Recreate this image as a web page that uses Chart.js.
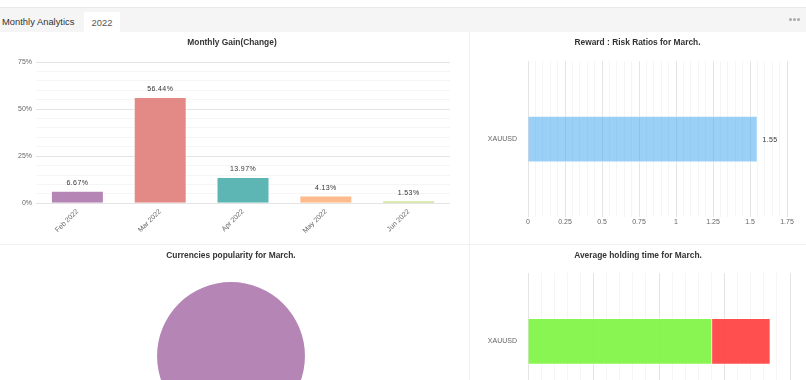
<!DOCTYPE html>
<html>
<head>
<meta charset="utf-8">
<script src="https://cdn.jsdelivr.net/npm/chart.js@4.4.0/dist/chart.umd.min.js"></script>
<style>
  html, body { margin: 0; padding: 0; background: #fff; overflow: hidden; }
  body { width: 806px; height: 380px; position: relative; font-family: Arial, "Liberation Sans", sans-serif; }
  .head { position: absolute; left: 0; top: 7px; width: 806px; height: 24px; background: #f5f5f5; border-top: 1px solid #e9e9e9; }
  .tab { position: absolute; top: 0; height: 24px; line-height: 27px; font-size: 9.4px; color: #333; }
  .tab.active { left: 84px; width: 36px; top: 4px; height: 21px; line-height: 21px; background: #fff; text-align: center; color: #555; }
  .dots { position: absolute; right: 6px; top: 10px; display: flex; }
  .dots i { display: block; width: 3px; height: 3px; border-radius: 50%; background: #aaa; margin-left: 1px; }
  .panel { position: absolute; }
  .vline { position: absolute; left: 469px; top: 32px; width: 1px; height: 360px; background: #f0f0f0; }
  .hline { position: absolute; left: 0; top: 244px; width: 806px; height: 1px; background: #f0f0f0; }
</style>
</head>
<body>
<div class="head">
  <div class="tab" style="left:2px;">Monthly Analytics</div>
  <div class="tab active">2022</div>
  <div class="dots"><i></i><i></i><i></i></div>
</div>
<div class="vline"></div>
<div class="hline"></div>
<div class="panel" style="left:0;top:32px;width:469px;height:212px;"><canvas id="gainChart"></canvas></div>
<div class="panel" style="left:469px;top:32px;width:337px;height:212px;"><canvas id="ratioChart"></canvas></div>
<div class="panel" style="left:0;top:245px;width:469px;height:189px;"><canvas id="popChart"></canvas></div>
<div class="panel" style="left:470px;top:245px;width:336px;height:200px;"><canvas id="holdChart"></canvas></div>
<script>
// donnees
const gainMonths = ['Feb 2022', 'Mar 2022', 'Apr 2022', 'May 2022', 'Jun 2022'];
const gainValues = [6.67, 56.44, 13.97, 4.13, 1.53];
const gainColors = ['#b586b5', '#e38986', '#5db6b3', '#ffba8e', '#b8d96b'];

const ratioSymbols = ['XAUUSD'];
const ratioValues = [1.55];

const popSymbols = ['XAUUSD'];
const popValues = [100];
const popColors = ['#b586b5'];

const holdSymbols = ['XAUUSD'];
const holdProfit = [2.81];
const holdLoss = [0.89];

Chart.defaults.font.family = "Arial, 'Liberation Sans', sans-serif";
Chart.defaults.color = '#666';
Chart.defaults.animation = false;

const titleFont = { size: 8.4, weight: 'bold' };
const tickFont = { size: 7 };
const major = '#e4e4e4';
const minor = '#f5f5f5';

// petites etiquettes de valeur au bout des barres
const valueLabels = {
    id: 'valueLabels',
    afterDatasetsDraw(chart, args, opts) {
        if (!opts.show) return;
        const ctx = chart.ctx;
        const meta = chart.getDatasetMeta(0);
        ctx.save();
        ctx.font = '7px Arial, "Liberation Sans", sans-serif';
        ctx.fillStyle = '#333';
        ctx.letterSpacing = '0.4px';
        meta.data.forEach((bar, i) => {
            const v = chart.data.datasets[0].data[i];
            if (opts.horizontal) {
                ctx.textAlign = 'left';
                ctx.textBaseline = 'middle';
                ctx.fillText(opts.format(v), bar.x + 5, bar.y + 1);
            } else {
                ctx.textAlign = 'center';
                ctx.textBaseline = 'bottom';
                ctx.fillText(opts.format(v), bar.x, bar.y - 4);
            }
        });
        ctx.restore();
    }
};
Chart.register(valueLabels);

function isStep(v, s) {
    return Math.abs(v / s - Math.round(v / s)) < 1e-6;
}

// Monthly Gain
new Chart(document.getElementById('gainChart'), {
    type: 'bar',
    data: {
        labels: gainMonths,
        datasets: [{
            data: gainValues,
            backgroundColor: gainColors,
            borderColor: 'rgba(255,255,255,0.6)',
            borderWidth: 1,
            barPercentage: 0.8,
            categoryPercentage: 0.8
        }]
    },
    options: {
        responsive: true,
        maintainAspectRatio: false,
        layout: { padding: { left: 14, right: 19, bottom: 5 } },
        plugins: {
            legend: { display: false },
            tooltip: { enabled: false },
            title: { display: true, text: 'Monthly Gain(Change)', color: '#333', font: titleFont, padding: { top: 6, bottom: 14 } },
            valueLabels: { show: true, format: v => v.toFixed(2) + '%' }
        },
        scales: {
            x: {
                grid: { display: false, drawTicks: false },
                border: { display: false },
                ticks: { font: tickFont, minRotation: 45, maxRotation: 45, padding: 4 }
            },
            y: {
                min: 0,
                max: 75,
                border: { display: false },
                grid: { drawTicks: false, color: c => isStep(c.tick.value, 25) ? major : minor },
                ticks: { font: tickFont, stepSize: 5, padding: 4, autoSkip: false,
                    callback: v => isStep(v, 25) ? v + '%' : '' }
            }
        }
    }
});

// Reward : Risk
new Chart(document.getElementById('ratioChart'), {
    type: 'bar',
    data: {
        labels: ratioSymbols,
        datasets: [{
            data: ratioValues,
            backgroundColor: 'rgba(54,162,235,0.5)',
            borderColor: 'rgba(255,255,255,0.7)',
            borderWidth: 1,
            barThickness: 46
        }]
    },
    options: {
        indexAxis: 'y',
        responsive: true,
        maintainAspectRatio: false,
        layout: { padding: { left: 19, right: 19, bottom: 16.5 } },
        plugins: {
            legend: { display: false },
            tooltip: { enabled: false },
            title: { display: true, text: 'Reward : Risk Ratios for March.', color: '#333', font: titleFont, padding: { top: 6, bottom: 13 } },
            valueLabels: { show: true, horizontal: true, format: v => v.toFixed(2) }
        },
        scales: {
            x: {
                min: 0,
                max: 1.75,
                border: { display: false },
                grid: { drawTicks: false, color: c => isStep(c.tick.value, 0.25) ? major : minor },
                ticks: { font: tickFont, stepSize: 0.05, padding: 1, autoSkip: false, maxRotation: 0,
                    callback: v => isStep(v, 0.25) ? String(Math.round(v * 100) / 100) : '' }
            },
            y: {
                border: { display: false },
                grid: { display: false, drawTicks: false },
                ticks: { font: tickFont, padding: 11 },
                afterFit: s => { s.width = 40; }
            }
        }
    }
});

// Currencies popularity
new Chart(document.getElementById('popChart'), {
    type: 'pie',
    data: {
        labels: popSymbols,
        datasets: [{ data: popValues, backgroundColor: popColors, borderWidth: 0 }]
    },
    options: {
        responsive: true,
        maintainAspectRatio: false,
        layout: { padding: { bottom: 4, right: 7 } },
        plugins: {
            legend: { display: false },
            tooltip: { enabled: false },
            title: { display: true, text: 'Currencies popularity for March.', color: '#333', font: titleFont, padding: { top: 6, bottom: 21 } }
        }
    }
});

// Average holding time
new Chart(document.getElementById('holdChart'), {
    type: 'bar',
    data: {
        labels: holdSymbols,
        datasets: [
            { data: holdProfit, backgroundColor: 'rgba(124,244,63,0.9)', borderColor: 'rgba(255,255,255,0.7)', borderWidth: 1, barThickness: 46 },
            { data: holdLoss, backgroundColor: 'rgba(255,60,60,0.9)', borderColor: 'rgba(255,255,255,0.7)', borderWidth: 1, barThickness: 46 }
        ]
    },
    options: {
        indexAxis: 'y',
        responsive: true,
        maintainAspectRatio: false,
        layout: { padding: { left: 16, right: 16, bottom: 21 } },
        plugins: {
            legend: { display: false },
            tooltip: { enabled: false },
            title: { display: true, text: 'Average holding time for March.', color: '#333', font: titleFont, padding: { top: 6, bottom: 12 } }
        },
        scales: {
            x: {
                stacked: true,
                min: 0,
                max: 4,
                border: { display: false },
                grid: { drawTicks: false, color: c => isStep(c.tick.value, 1) ? major : minor },
                ticks: { font: tickFont, stepSize: 0.2, padding: 3, autoSkip: false, maxRotation: 0,
                    callback: v => isStep(v, 1) ? String(Math.round(v)) : '' }
            },
            y: {
                stacked: true,
                border: { display: false },
                grid: { display: false, drawTicks: false },
                ticks: { font: tickFont, padding: 11 },
                afterFit: s => { s.width = 42; }
            }
        }
    }
});
</script>
</body>
</html>
